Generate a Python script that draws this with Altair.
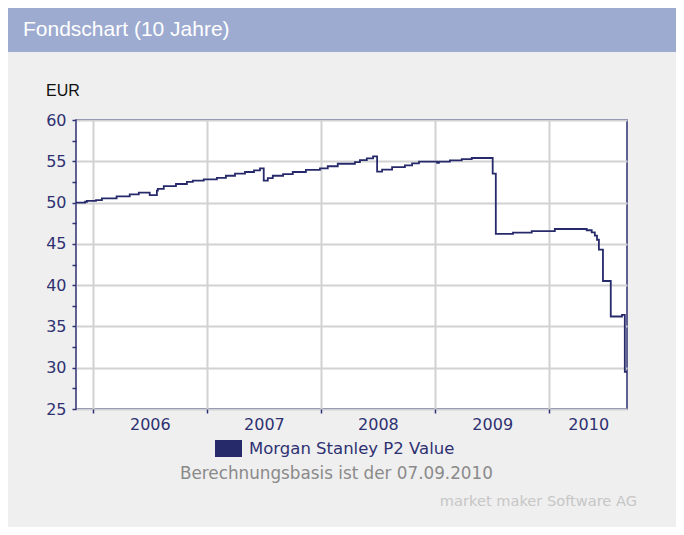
import altair as alt
import pandas as pd

# ---- data ----
dates = [
    "2005-11-08", "2005-12-07", "2005-12-13", "2006-01-11", "2006-01-30",
    "2006-03-18", "2006-04-29", "2006-05-28", "2006-07-02", "2006-07-25",
    "2006-07-28", "2006-08-16", "2006-09-24", "2006-10-29", "2006-11-17",
    "2006-12-22", "2007-02-02", "2007-03-03", "2007-04-01", "2007-05-03",
    "2007-06-01", "2007-06-20", "2007-07-02", "2007-07-15", "2007-07-31",
    "2007-09-02", "2007-10-03", "2007-11-14", "2007-12-29", "2008-01-23",
    "2008-02-24", "2008-04-19", "2008-05-05", "2008-05-27", "2008-06-16",
    "2008-06-29", "2008-07-15", "2008-08-16", "2008-09-26", "2008-10-19",
    "2008-11-10", "2009-01-07", "2009-01-13", "2009-02-17", "2009-03-27",
    "2009-04-28", "2009-07-04", "2009-07-14", "2009-09-07", "2009-11-06",
    "2010-01-19", "2010-05-01", "2010-05-17", "2010-05-27", "2010-06-03",
    "2010-06-09", "2010-06-22", "2010-07-17", "2010-08-22", "2010-08-31",
    "2010-09-07",
]
values = [
    50.0, 50.1, 50.2, 50.3, 50.5,
    50.75, 51.0, 51.2, 50.9, 51.45,
    51.65, 52.0, 52.25, 52.5, 52.65,
    52.8, 53.0, 53.25, 53.5, 53.7,
    53.9, 54.15, 52.65, 52.95, 53.25,
    53.45, 53.7, 53.95, 54.15, 54.4,
    54.7, 54.9, 55.15, 55.35, 55.6,
    53.75, 54.0, 54.3, 54.5, 54.75,
    54.95, 54.8, 54.95, 55.1, 55.25,
    55.4, 53.5, 46.2, 46.35, 46.55,
    46.8, 46.65, 46.4, 46.0, 45.5,
    44.3, 40.5, 36.2, 36.4, 29.5,
    29.5,
]
series_name = "Morgan Stanley P2 Value"
years = [2006, 2007, 2008, 2009, 2010]
y_ticks = [25 + 2.5 * i for i in range(15)]

header_text = "Fondschart (10 Jahre)"
unit_text = "EUR"
basis_text = "Berechnungsbasis ist der 07.09.2010"
credit_text = "market maker Software AG"

df = pd.DataFrame({"date": dates, "value": values, "series": series_name})

NAVY = "#262A6B"
AXIS_NAVY = "#2E3172"
W, H = 551, 289

x_scale = alt.Scale(
    domain=[alt.DateTime(year=2005, month=11, date=8),
            alt.DateTime(year=2010, month=9, date=7)],
    nice=False,
)
y_scale = alt.Scale(domain=[25, 60], nice=False, zero=False)

x_axis = alt.Axis(
    values=[alt.DateTime(year=y, month=1, date=1) for y in years],
    format="%Y",
    title=None,
    grid=True,
    gridColor="#D2D2D2",
    gridWidth=2,
    domain=False,
    tickSize=4,
    tickWidth=1.5,
    tickColor=AXIS_NAVY,
    labelFont="DejaVu Sans",
    labelFontSize=16,
    labelColor=AXIS_NAVY,
    labelPadding=3,
    labelOverlap=False,
    labelFlush=False,
    labelBound=False,
    labelOffset={"condition": {"test": "year(datum.value) == 2010", "value": 39}, "value": 57},
)
y_axis = alt.Axis(
    values=y_ticks,
    title=None,
    labelExpr="datum.value % 5 == 0 ? datum.label : ''",
    grid=True,
    gridColor="#D2D2D2",
    gridWidth=2,
    gridOpacity={"condition": {"test": "datum.value % 5 != 0", "value": 0}, "value": 1},
    domain=False,
    tickSize=4,
    tickWidth=1.5,
    tickColor=AXIS_NAVY,
    labelFont="DejaVu Sans",
    labelFontSize=16,
    labelColor=AXIS_NAVY,
    labelPadding=6,
    labelOverlap=False,
)

legend = alt.Legend(
    orient="none",
    legendX=139,
    legendY=315,
    title=None,
    padding=0,
    symbolType="M-1,-0.63L1,-0.63L1,0.63L-1,0.63Z",
    symbolSize=729,
    symbolFillColor=NAVY,
    symbolStrokeColor=NAVY,
    symbolStrokeWidth=0,
    labelFont="DejaVu Sans",
    labelFontSize=16.5,
    labelColor=AXIS_NAVY,
    labelOffset=7,
    labelLimit=0,
)

line = alt.Chart(df).mark_line(interpolate="step-after", strokeWidth=1.8).encode(
    x=alt.X("date:T", scale=x_scale, axis=x_axis),
    y=alt.Y("value:Q", scale=y_scale, axis=y_axis),
    color=alt.Color("series:N", scale=alt.Scale(range=[NAVY]), legend=legend),
)

hdr_df = pd.DataFrame({"t": [header_text]})
header_band = alt.Chart(hdr_df).mark_rect(color="#9DABD0").encode(
    x=alt.value(-68), x2=alt.value(600), y=alt.value(-115), y2=alt.value(-68)
)
header_label = alt.Chart(hdr_df).mark_text(
    align="left", baseline="alphabetic", font="Liberation Sans",
    fontSize=21, color="white"
).encode(text="t:N", x=alt.value(-53), y=alt.value(-84))

unit_label = alt.Chart(pd.DataFrame({"t": [unit_text]})).mark_text(
    align="left", baseline="alphabetic", font="Liberation Sans",
    fontSize=16, color="#111111"
).encode(text="t:N", x=alt.value(-30), y=alt.value(-24))

basis_label = alt.Chart(pd.DataFrame({"t": [basis_text]})).mark_text(
    align="left", baseline="alphabetic", font="DejaVu Sans",
    fontSize=16.8, color="#8A8A8A"
).encode(text="t:N", x=alt.value(104), y=alt.value(359))

credit_label = alt.Chart(pd.DataFrame({"t": [credit_text]})).mark_text(
    align="right", baseline="alphabetic", font="DejaVu Sans",
    fontSize=14.6, color="#C6C6C6"
).encode(text="t:N", x=alt.value(561), y=alt.value(386))

chart = alt.layer(
    header_band, header_label, unit_label, basis_label, credit_label, line
).properties(
    width=W,
    height=H,
    padding={"left": 68, "top": 112, "right": 49, "bottom": 118},
    autosize=alt.AutoSizeParams(type="none"),
).configure(
    background="#EFEFEF",
).configure_view(
    fill="white",
    stroke=AXIS_NAVY,
    strokeWidth=1.5,
)

chart.save("out.html", embed_options={"renderer": "svg", "actions": False})
